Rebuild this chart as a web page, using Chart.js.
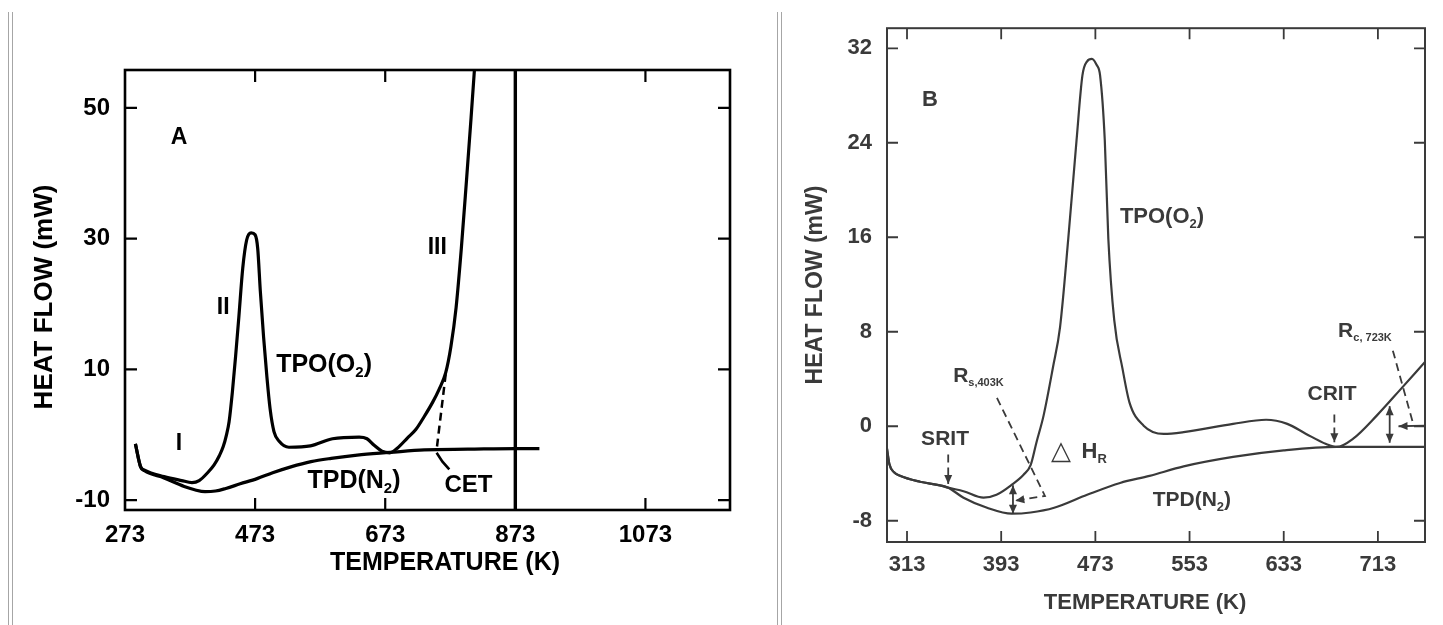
<!DOCTYPE html>
<html>
<head>
<meta charset="utf-8">
<script src="https://cdn.jsdelivr.net/npm/chart.js@4.4.1/dist/chart.umd.min.js"></script>
<style>
  html, body { margin: 0; padding: 0; background: #fff; }
  body { width: 1443px; height: 625px; position: relative; overflow: hidden; }
  .rule { position: absolute; top: 12px; bottom: 0; width: 1px; background: #a6a6a6; }
  #boxA { position: absolute; left: 0; top: 0; width: 770px; height: 625px; }
  #boxB { position: absolute; left: 785px; top: 0; width: 658px; height: 625px; }
</style>
</head>
<body>
<div class="rule" style="left:8px"></div>
<div class="rule" style="left:12px"></div>
<div class="rule" style="left:777px"></div>
<div class="rule" style="left:781px"></div>
<div id="boxA"><canvas id="chartA"></canvas></div>
<div id="boxB"><canvas id="chartB"></canvas></div>
<script>
const FONT = '"Liberation Sans", Arial, Helvetica, sans-serif';

// ---- panel A : temperature (K) / heat flow (mW) ----
const xTicksA = [273, 473, 673, 873, 1073];
const yTicksA = [-10, 10, 30, 50];
const xRangeA = [273, 1203];
const yRangeA = [-11.5, 55.8];

const tempTpoA = [289, 297, 303, 333, 360, 376, 387, 400, 410, 418, 424, 429, 433, 438, 443, 448, 454, 460, 467, 473,
                  477, 481, 486, 491, 496, 502, 510, 525, 558, 592, 633, 645, 656, 668, 680, 692, 707, 720, 733, 746,
                  756, 766, 774, 782, 790, 798, 805, 812];
const flowTpoA = [-1.4, -4.9, -5.4, -6.4, -7.0, -7.3, -7.0, -5.8, -4.6, -3.2, -1.8, 0.0, 2.0, 6.5, 12.0, 18.0, 25.5, 29.8, 30.9, 30.6,
                  28.5, 22.0, 15.0, 9.0, 4.0, 0.5, -1.0, -1.9, -1.7, -0.6, -0.35, -0.6, -1.6, -2.5, -2.75, -2.0, -0.5, 0.8, 2.8, 5.0,
                  7.0, 9.5, 13.5, 19.5, 28.5, 39.0, 48.5, 58.5];

const tempTpdA = [289, 297, 303, 333, 364, 380, 396, 412, 428, 450, 476, 500, 528, 559, 590, 630, 680, 733, 800, 873, 910];
const flowTpdA = [-1.4, -4.9, -5.5, -6.6, -7.9, -8.4, -8.7, -8.6, -8.2, -7.5, -6.7, -5.8, -4.9, -4.1, -3.6, -3.1, -2.7, -2.3, -2.2, -2.1, -2.1];

const cutoffA = 873;
const cetA = [[766, 9.3], [752, -2.3]];

// ---- panel B ----
const xTicksB = [313, 393, 473, 553, 633, 713];
const yTicksB = [-8, 0, 8, 16, 24, 32];
const xRangeB = [296, 753];
const yRangeB = [-9.8, 33.7];

const tempTpoB = [296, 298, 302, 307, 324, 341, 348, 361, 378, 389, 402, 412, 418, 423, 429, 437, 443, 450, 457, 462,
                  466, 470, 474, 477, 481, 484, 489, 496, 502, 514, 531, 548, 590, 618, 636, 652, 669, 678, 692, 712,
                  732, 753];
const flowTpoB = [-1.9, -3.2, -3.9, -4.2, -4.7, -5.0, -5.2, -5.5, -6.05, -5.8, -4.95, -4.1, -3.3, -1.35, 0.9, 5.0, 8.4, 15.9, 24.2, 29.7,
                  30.9, 31.1, 30.6, 29.7, 24.2, 15.9, 9.0, 4.9, 2.0, 0.05, -0.65, -0.5, 0.2, 0.55, 0.2, -0.65, -1.5, -1.75, -1.05, 0.9,
                  3.1, 5.45];

const tempTpdB = [296, 298, 302, 307, 324, 341, 348, 361, 381, 402, 418, 438, 466, 494, 519, 548, 590, 633, 678, 753];
const flowTpdB = [-1.9, -3.2, -3.9, -4.2, -4.7, -5.0, -5.2, -6.05, -6.9, -7.4, -7.3, -6.9, -5.8, -4.8, -4.2, -3.4, -2.6, -2.05, -1.75, -1.75];

function series(xs, ys, color, width, dash) {
  return {
    data: xs.map((v, i) => ({ x: v, y: ys[i] })),
    borderColor: color,
    borderWidth: width,
    borderDash: dash || [],
    pointRadius: 0,
    cubicInterpolationMode: 'monotone',
    fill: false
  };
}

function drawRich(ctx, str, x, y, l) {
  const size = l.size, weight = l.weight || 'bold';
  const subSize = Math.round(size * (l.sub || 0.6));
  const parts = str.split(/(_\{[^}]*\})/).filter(Boolean).map(p =>
    p.startsWith('_{') ? { t: p.slice(2, -1), sub: true } : { t: p, sub: false });
  let w = 0;
  parts.forEach(p => {
    ctx.font = weight + ' ' + (p.sub ? subSize : size) + 'px ' + FONT;
    p.w = ctx.measureText(p.t).width;
    w += p.w;
  });
  let cx = x - w / 2;
  ctx.textAlign = 'left';
  ctx.textBaseline = 'middle';
  parts.forEach(p => {
    ctx.font = weight + ' ' + (p.sub ? subSize : size) + 'px ' + FONT;
    ctx.fillText(p.t, cx, p.sub ? y + size * 0.32 : y);
    cx += p.w;
  });
}

function arrowHead(ctx, from, to, len, half) {
  const ang = Math.atan2(to[1] - from[1], to[0] - from[0]);
  const c = Math.cos(ang), s = Math.sin(ang);
  ctx.beginPath();
  ctx.moveTo(to[0], to[1]);
  ctx.lineTo(to[0] - len * c + half * s, to[1] - len * s - half * c);
  ctx.lineTo(to[0] - len * c - half * s, to[1] - len * s + half * c);
  ctx.closePath();
  ctx.fill();
}

// frame + inward tick marks on all four sides
function framePlugin(color, width, tick, tickWidth) {
  return {
    id: 'frame',
    afterDatasetsDraw(chart) {
      const { ctx, chartArea: a, scales: { x, y } } = chart;
      ctx.save();
      ctx.strokeStyle = color;
      ctx.lineWidth = width;
      ctx.strokeRect(a.left, a.top, a.right - a.left, a.bottom - a.top);
      ctx.lineWidth = tickWidth;
      ctx.beginPath();
      x.ticks.forEach(t => {
        const px = x.getPixelForValue(t.value);
        if (px <= a.left + 2 || px >= a.right - 2) return;
        ctx.moveTo(px, a.bottom); ctx.lineTo(px, a.bottom - tick);
        ctx.moveTo(px, a.top); ctx.lineTo(px, a.top + tick);
      });
      y.ticks.forEach(t => {
        const py = y.getPixelForValue(t.value);
        if (py <= a.top + 2 || py >= a.bottom - 2) return;
        ctx.moveTo(a.left, py); ctx.lineTo(a.left + tick, py);
        ctx.moveTo(a.right, py); ctx.lineTo(a.right - tick, py);
      });
      ctx.stroke();
      ctx.restore();
    }
  };
}

// text labels and arrows, placed in data units
function notesPlugin(color, labels, arrows, titles) {
  return {
    id: 'notes',
    afterDatasetsDraw(chart) {
      const { ctx, scales: { x, y } } = chart;
      const px = p => [x.getPixelForValue(p[0]), y.getPixelForValue(p[1])];
      ctx.save();
      ctx.fillStyle = color;
      ctx.strokeStyle = color;
      arrows.forEach(ar => {
        const pts = ar.pts.map(px);
        ctx.lineWidth = ar.width;
        ctx.setLineDash(ar.dash ? [8, 5] : []);
        ctx.beginPath();
        pts.forEach((p, i) => i ? ctx.lineTo(p[0], p[1]) : ctx.moveTo(p[0], p[1]));
        ctx.stroke();
        ctx.setLineDash([]);
        const n = pts.length;
        if (ar.end) arrowHead(ctx, pts[n - 2], pts[n - 1], 9, 4);
        if (ar.start) arrowHead(ctx, pts[1], pts[0], 9, 4);
      });
      labels.forEach(l => {
        const p = px([l.x, l.y]);
        drawRich(ctx, l.text, p[0], p[1], l);
      });
      // axis titles
      ctx.font = 'bold ' + titles.xSize + 'px ' + FONT;
      ctx.textAlign = 'center';
      ctx.textBaseline = 'middle';
      ctx.fillText(titles.x, titles.xPos[0], titles.xPos[1]);
      ctx.font = 'bold ' + titles.ySize + 'px ' + FONT;
      ctx.translate(titles.yPos[0], titles.yPos[1]);
      ctx.rotate(-Math.PI / 2);
      ctx.fillText(titles.y, 0, 0);
      ctx.restore();
    }
  };
}

function makeOptions(c) {
  const tickFont = { family: FONT, size: c.tickSize, weight: 'bold' };
  return {
    responsive: true,
    maintainAspectRatio: false,
    animation: false,
    layout: { padding: c.pad },
    plugins: { legend: { display: false }, tooltip: { enabled: false } },
    scales: {
      x: {
        type: 'linear', min: c.xRange[0], max: c.xRange[1],
        afterBuildTicks: s => { s.ticks = c.xTicks.map(v => ({ value: v })); },
        afterFit: s => { s.height = c.xHeight; },
        grid: { display: false, drawTicks: false },
        border: { display: false },
        ticks: { color: c.color, padding: c.xPad, maxRotation: 0, autoSkip: false, font: tickFont, callback: v => String(v) }
      },
      y: {
        type: 'linear', min: c.yRange[0], max: c.yRange[1],
        afterBuildTicks: s => { s.ticks = c.yTicks.map(v => ({ value: v })); },
        afterFit: s => { s.width = c.yWidth; },
        grid: { display: false, drawTicks: false },
        border: { display: false },
        ticks: { color: c.color, padding: c.yPad, autoSkip: false, font: tickFont, callback: v => String(v) }
      }
    }
  };
}

// ---------- chart A ----------
const inkA = '#000';
new Chart(document.getElementById('chartA'), {
  type: 'line',
  data: {
    datasets: [
      series(tempTpoA, flowTpoA, inkA, 3.2),
      series(tempTpdA, flowTpdA, inkA, 3.2),
      series([cutoffA, cutoffA], yRangeA, inkA, 3.4),
      series(cetA.map(p => p[0]), cetA.map(p => p[1]), inkA, 2.5, [8, 5])
    ]
  },
  options: makeOptions({
    xRange: xRangeA, yRange: yRangeA, xTicks: xTicksA, yTicks: yTicksA,
    pad: { top: 70, right: 40, left: 0, bottom: 0 }, xHeight: 115, yWidth: 125,
    xPad: 11, yPad: 15, tickSize: 24, color: inkA
  }),
  plugins: [
    framePlugin(inkA, 2.6, 12, 2.2),
    notesPlugin(inkA, [
      { text: 'A', x: 356, y: 45.4, size: 23 },
      { text: 'II', x: 424, y: 19.5, size: 23 },
      { text: 'III', x: 753, y: 28.7, size: 23 },
      { text: 'I', x: 356, y: -1.3, size: 23 },
      { text: 'TPO(O_{2})', x: 579, y: 10.7, size: 25 },
      { text: 'TPD(N_{2})', x: 625, y: -7.1, size: 25 },
      { text: 'CET', x: 801, y: -7.7, size: 24 }
    ], [
      { pts: [[752, -2.75], [761, -4.1], [771.5, -5.3]], width: 2.6 }
    ], {
      x: 'TEMPERATURE (K)', xSize: 25, xPos: [445, 563],
      y: 'HEAT FLOW (mW)', ySize: 26, yPos: [45, 297]
    })
  ]
});

// ---------- chart B ----------
const inkB = '#3a3a3a';
new Chart(document.getElementById('chartB'), {
  type: 'line',
  data: {
    datasets: [
      series(tempTpoB, flowTpoB, inkB, 2.2),
      series(tempTpdB, flowTpdB, inkB, 2.2)
    ]
  },
  options: makeOptions({
    xRange: xRangeB, yRange: yRangeB, xTicks: xTicksB, yTicks: yTicksB,
    pad: { top: 18, right: 18, left: 0, bottom: 0 }, xHeight: 83, yWidth: 102,
    xPad: 10, yPad: 15, tickSize: 22, color: inkB
  }),
  plugins: [
    framePlugin(inkB, 2, 11, 1.8),
    notesPlugin(inkB, [
      { text: 'B', x: 332.5, y: 27.6, size: 22 },
      { text: 'TPO(O_{2})', x: 529.6, y: 17.7, size: 22 },
      { text: 'R_{s,403K}', x: 373.7, y: 4.2, size: 21, sub: 0.5 },
      { text: 'SRIT', x: 345.3, y: -1.1, size: 21 },
      { text: '\u25B3', x: 443.6, y: -2.2, size: 26, weight: 'normal' },
      { text: 'H_{R}', x: 472, y: -2.2, size: 22 },
      { text: 'TPD(N_{2})', x: 555, y: -6.3, size: 21 },
      { text: 'CRIT', x: 674, y: 2.7, size: 21 },
      { text: 'R_{c, 723K}', x: 702, y: 8.05, size: 21, sub: 0.5 }
    ], [
      { pts: [[348, -2.4], [348, -4.9]], dash: true, end: true, width: 1.8 },
      { pts: [[389.4, 2.4], [430.2, -5.9], [405, -6.3]], dash: true, end: true, width: 1.8 },
      { pts: [[403, -5.0], [403, -7.4]], start: true, end: true, width: 1.8 },
      { pts: [[676, 1.0], [676, -1.35]], dash: true, end: true, width: 1.8 },
      { pts: [[725.7, 6.4], [742.7, 0.3]], dash: true, width: 1.8 },
      { pts: [[753, 0.05], [730.5, 0.0]], end: true, width: 1.8 },
      { pts: [[723, 1.7], [723, -1.4]], start: true, end: true, width: 1.8 }
    ], {
      x: 'TEMPERATURE (K)', xSize: 22, xPos: [360, 603],
      y: 'HEAT FLOW (mW)', ySize: 23, yPos: [31, 285]
    })
  ]
});
</script>
</body>
</html>
